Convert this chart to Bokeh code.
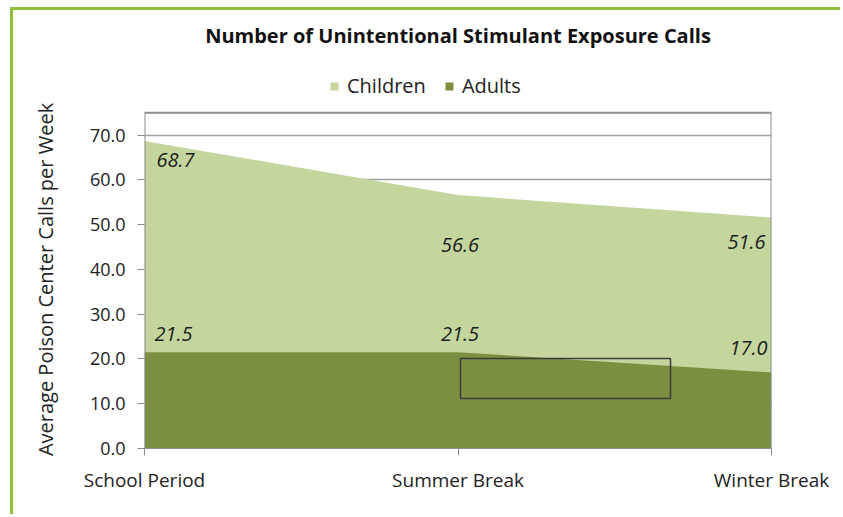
from bokeh.plotting import figure
from bokeh.models import (ColumnDataSource, Legend, LegendItem, Title, FixedTicker,
                          NumeralTickFormatter, BoxAnnotation)
from bokeh.embed import file_html
from bokeh.resources import INLINE
from bokeh.core.properties import value

# ---- data ----
periods = ["School Period", "Summer Break", "Winter Break"]
children = [68.7, 56.6, 51.6]
adults = [21.5, 21.5, 17.0]
y_ticks = [0, 10, 20, 30, 40, 50, 60, 70]
Y_MAX = 75          # top of the plot box
Y_VIEW = 87.1       # frame extends above the box to hold the legend

# ---- styling ----
FONT = "Open Sans"
C_CHILD = "#c5d59e"
C_ADULT = "#7b8f40"
GREEN_BORDER = "#93c03b"
AXIS_GRAY = "#8c8c8c"
child_dx = [31, 2, -25]
child_dy = [19, 50, 25]
adult_dx = [29, 2, -23]
adult_dy = [-18, -18, -24]
NBSP = "\u00a0"

xs = list(range(len(periods)))
x_first, x_last = xs[0], xs[-1]

# canvas starts at (13, 10) in the window because of the CSS margin + border
p = figure(width=830, height=507, output_backend="svg", toolbar_location=None,
           x_range=(x_first, x_last), y_range=(0, Y_VIEW),
           min_border_left=131, min_border_right=72, min_border_top=45,
           min_border_bottom=69, background_fill_color="white",
           border_fill_color="white")
p.styles = {"margin-left": "10px", "margin-top": "7px",
            "border-left": f"3px solid {GREEN_BORDER}",
            "border-top": f"3px solid {GREEN_BORDER}"}

src = ColumnDataSource(dict(x=xs, children=children, adults=adults))
r_child = p.varea(x="x", y1=0, y2="children", source=src, fill_color=C_CHILD)
r_adult = p.varea(x="x", y1=0, y2="adults", source=src, fill_color=C_ADULT)

# plot box (left, top, right edges)
p.line(x=[x_first, x_first, x_last, x_last], y=[0, Y_MAX, Y_MAX, 0],
       line_color=AXIS_GRAY, line_width=2)

# data labels
lab_src_c = ColumnDataSource(dict(x=xs, y=children, t=[f"{v:.1f}" for v in children],
                                  dx=child_dx, dy=child_dy))
lab_src_a = ColumnDataSource(dict(x=xs, y=adults, t=[f"{v:.1f}" for v in adults],
                                  dx=adult_dx, dy=adult_dy))
for s in (lab_src_c, lab_src_a):
    p.text(x="x", y="y", text="t", x_offset="dx", y_offset="dy", source=s,
           text_align="center", text_baseline="middle", text_font=value(FONT),
           text_font_size="20px", text_font_style="italic", text_color="#1e1e1e")

# axes
p.xaxis.ticker = FixedTicker(ticks=xs)
p.xaxis.major_label_overrides = {i: n for i, n in enumerate(periods)}
p.yaxis.ticker = FixedTicker(ticks=y_ticks)
p.yaxis.formatter = NumeralTickFormatter(format="0.0")
# trailing no-break spaces keep the label centred on the plot box, not the taller frame
p.yaxis.axis_label = "Average Poison Center Calls per Week" + NBSP * 10
for ax in (p.xaxis[0], p.yaxis[0]):
    ax.axis_line_color = AXIS_GRAY
    ax.major_tick_line_color = AXIS_GRAY
    ax.major_tick_out = 7
    ax.major_tick_in = 0
    ax.minor_tick_line_color = None
    ax.major_label_text_font = FONT
    ax.major_label_text_font_size = "18px"
    ax.major_label_text_color = "#222222"
p.yaxis.axis_line_color = None
p.xaxis.major_label_text_font_size = "19px"
p.xaxis.major_label_standoff = 11
p.yaxis.major_label_standoff = 12
p.yaxis.axis_label_text_font = FONT
p.yaxis.axis_label_text_font_size = "20px"
p.yaxis.axis_label_text_font_style = "normal"
p.yaxis.axis_label_text_color = "#222222"
p.yaxis.axis_label_standoff = 28

p.xgrid.grid_line_color = None
p.ygrid.grid_line_color = "#a0a0a0"
p.ygrid.grid_line_width = 1.5
p.outline_line_color = None

# legend sits at the top of the (extended) frame
legend = Legend(items=[LegendItem(label="Children", renderers=[r_child]),
                       LegendItem(label="Adults", renderers=[r_adult])],
                orientation="horizontal", location=(185, 349),
                border_line_color=None,
                label_text_font=FONT, label_text_font_size="20px",
                label_text_color="#222222", glyph_width=10, glyph_height=10,
                label_standoff=8, spacing=18, padding=7, margin=0)
p.add_layout(legend)

# legend frame (screen units, canvas coordinates)
p.add_layout(BoxAnnotation(left=316, right=526, top=50, bottom=90,
                           left_units="screen", right_units="screen",
                           top_units="screen", bottom_units="screen",
                           fill_color=None, fill_alpha=0,
                           line_color="#3c3c3c", line_width=1.5, line_alpha=1,
                           level="overlay"))

title = Title(text="Number of Unintentional Stimulant Exposure Calls", align="center",
              text_font=FONT, text_font_size="20px", text_font_style="bold",
              text_color="#111111", standoff=19)
p.add_layout(title, "above")

open("out.html", "w").write(file_html(p, INLINE))
